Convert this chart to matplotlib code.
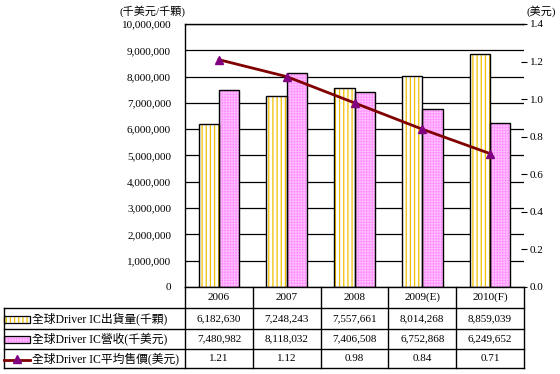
import matplotlib
matplotlib.use("Agg")
import matplotlib.pyplot as plt
from matplotlib.patches import Rectangle
from matplotlib.lines import Line2D

years = ['2006', '2007', '2008', '2009(E)', '2010(F)']
shipments = [6182630, 7248243, 7557661, 8014268, 8859039]
revenue = [7480982, 8118032, 7406508, 6752868, 6249652]
price = [1.21, 1.12, 0.98, 0.84, 0.71]
series_names = ['全球Driver IC出貨量(千顆)', '全球Driver IC營收(千美元)', '全球Driver IC平均售價(美元)']
left_unit = '(千美元/千顆)'
right_unit = '(美元)'

FAM = ['Liberation Serif', 'Noto Sans CJK TC', 'DejaVu Sans']
plt.rcParams['font.family'] = FAM
plt.rcParams['hatch.linewidth'] = 0.9

FS = 8
W, H = 560, 374
fig = plt.figure(figsize=(W / 100, H / 100), dpi=100)

PL, PR, PT, PB = 185, 524, 24, 287
ax = fig.add_axes([PL / W, 1 - PB / H, (PR - PL) / W, (PB - PT) / H])

x = list(range(len(years)))
bw = 0.3
YEL = '#F2C000'
PINK = '#FF80FF'
PINKH = '#FFB8FF'
xs1 = [i - bw / 2 for i in x]
xs2 = [i + bw / 2 for i in x]
ax.bar(xs1, shipments, bw, facecolor='white', edgecolor=YEL, hatch='||||', linewidth=0, zorder=2)
ax.bar(xs1, shipments, bw, fill=False, edgecolor='black', linewidth=1, zorder=3)
ax.bar(xs2, revenue, bw, facecolor=PINK, edgecolor=PINKH, hatch='++++++', linewidth=0, zorder=2)
ax.bar(xs2, revenue, bw, fill=False, edgecolor='black', linewidth=1, zorder=3)

ax.set_xlim(-0.5, len(years) - 0.5)
ax.set_ylim(0, 10000000)
ax.set_yticks(range(0, 10000001, 1000000))
ax.set_yticklabels([f'{v:,}' for v in range(0, 10000001, 1000000)], fontsize=FS)
ax.tick_params(axis='y', length=0, pad=10)
ax.set_xticks([])
ax.grid(axis='y', color='black', linewidth=0.9)
ax.set_axisbelow(True)
ax.spines['right'].set_visible(False)
for s in ['left', 'top', 'bottom']:
    ax.spines[s].set_linewidth(1)

ax2 = ax.twinx()
ax2.plot(x, price, color='#800000', linewidth=2, zorder=4)
ax2.plot(x, price, linestyle='none', marker='^', markersize=6, color='#800080', zorder=5)
ax2.set_ylim(0, 1.4)
ax2.set_yticks([i / 5 for i in range(8)])
ax2.set_yticklabels([f'{i / 5:.1f}' for i in range(8)], fontsize=FS)
ax2.tick_params(axis='y', direction='inout', length=4, width=0.8, pad=2)
for s in ['left', 'top', 'bottom', 'right']:
    ax2.spines[s].set_visible(False)
ax2.set_xlim(-0.5, len(years) - 0.5)

fig.text(152 / W, 1 - 11 / H, left_unit, ha='center', va='center', fontsize=FS)
fig.text(541 / W, 1 - 11 / H, right_unit, ha='center', va='center', fontsize=FS)

# table overlay in pixel coordinates
ov = fig.add_axes([0, 0, 1, 1])
ov.set_xlim(0, W)
ov.set_ylim(H, 0)
ov.axis('off')

TL = 4
rows_y = [287, 308, 329, 349, 368]
colw = (PR - PL) / len(years)
col_x = [PL + i * colw for i in range(len(years) + 1)]

def hl(x0, x1, y):
    ov.add_line(Line2D([x0, x1], [y, y], color='black', linewidth=1))

def vl(xx, y0, y1):
    ov.add_line(Line2D([xx, xx], [y0, y1], color='black', linewidth=1))

for y in rows_y[1:]:
    hl(TL, PR, y)
vl(TL, rows_y[1], rows_y[-1])
for cx in col_x:
    vl(cx, rows_y[0], rows_y[-1])

for i, yr in enumerate(years):
    cx = PL + (i + 0.5) * colw
    ov.text(cx, (rows_y[0] + rows_y[1]) / 2, yr, ha='center', va='center', fontsize=FS)
    ov.text(cx, (rows_y[1] + rows_y[2]) / 2, f'{shipments[i]:,}', ha='center', va='center', fontsize=FS)
    ov.text(cx, (rows_y[2] + rows_y[3]) / 2, f'{revenue[i]:,}', ha='center', va='center', fontsize=FS)
    ov.text(cx, (rows_y[3] + rows_y[4]) / 2, f'{price[i]:.2f}', ha='center', va='center', fontsize=FS)

# legend swatches
cy = [(rows_y[k] + rows_y[k + 1]) / 2 for k in range(1, 4)]
ov.add_patch(Rectangle((4, cy[0] - 3), 26, 7, facecolor='white', edgecolor=YEL, hatch='||||', linewidth=0))
ov.add_patch(Rectangle((4, cy[0] - 3), 26, 7, fill=False, edgecolor='black', linewidth=0.9))
ov.add_patch(Rectangle((4, cy[1] - 3), 26, 7, facecolor=PINK, edgecolor=PINKH, hatch='++++++', linewidth=0))
ov.add_patch(Rectangle((4, cy[1] - 3), 26, 7, fill=False, edgecolor='black', linewidth=0.9))
ov.add_line(Line2D([4, 30], [cy[2] + 1, cy[2] + 1], color='#800000', linewidth=2))
ov.plot([17], [cy[2]], marker='^', markersize=6, color='#800080', linestyle='none')
for k, name in enumerate(series_names):
    ov.text(32, cy[k], name, ha='left', va='center', fontsize=8.5)

fig.savefig('out.png', dpi=100)
